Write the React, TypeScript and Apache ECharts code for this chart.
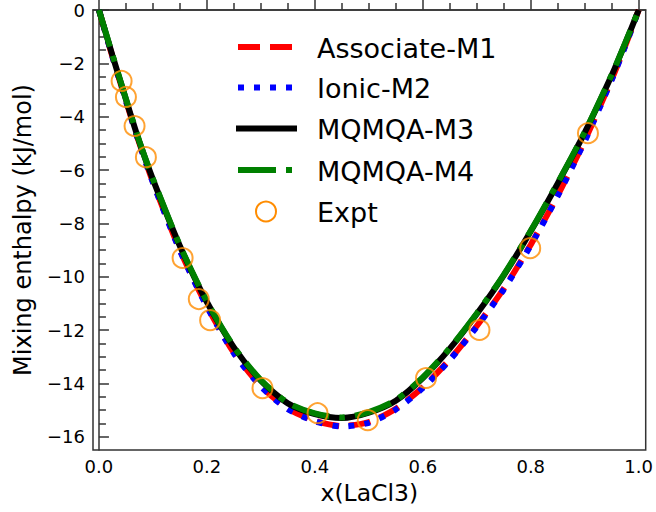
import React, { useEffect, useRef } from "react";
import * as echarts from "echarts";

// ---- data ----
const X_GRID = [0, 0.025, 0.05, 0.075, 0.1, 0.15, 0.2, 0.25, 0.3, 0.35, 0.4, 0.45, 0.5, 0.55, 0.6, 0.65, 0.7, 0.75, 0.8, 0.85, 0.9, 0.95, 0.975, 1.0];
const M1 = [0, -1.75, -3.4, -5.0, -6.45, -9.0, -11.1, -12.85, -14.1, -14.95, -15.4, -15.6, -15.45, -14.95, -14.15, -13.1, -11.85, -10.45, -8.8, -6.95, -4.9, -2.6, -1.35, 0];
const M2 = [0, -1.75, -3.42, -5.02, -6.47, -9.02, -11.12, -12.87, -14.12, -14.97, -15.42, -15.62, -15.48, -14.98, -14.18, -13.13, -11.88, -10.48, -8.83, -6.97, -4.92, -2.62, -1.36, 0];
const M3 = [0, -1.7, -3.35, -4.95, -6.35, -8.85, -10.95, -12.65, -13.9, -14.75, -15.15, -15.3, -15.1, -14.65, -13.8, -12.7, -11.4, -9.95, -8.3, -6.5, -4.6, -2.45, -1.25, 0];
const M4 = [0, -1.68, -3.33, -4.93, -6.33, -8.83, -10.93, -12.63, -13.88, -14.73, -15.13, -15.28, -15.08, -14.63, -13.78, -12.68, -11.38, -9.93, -8.28, -6.48, -4.58, -2.43, -1.24, 0];
const EXPT_X = [0.042, 0.05, 0.066, 0.087, 0.155, 0.185, 0.206, 0.303, 0.405, 0.498, 0.606, 0.705, 0.799, 0.906];
const EXPT_Y = [-2.66, -3.26, -4.35, -5.52, -9.3, -10.84, -11.63, -14.18, -15.12, -15.38, -13.8, -12.0, -8.93, -4.62];

const X_MAJOR = [0, 0.2, 0.4, 0.6, 0.8, 1.0];
const X_MINOR = [0.05, 0.1, 0.15, 0.25, 0.3, 0.35, 0.45, 0.5, 0.55, 0.65, 0.7, 0.75, 0.85, 0.9, 0.95];
const Y_MAJOR = [0, -2, -4, -6, -8, -10, -12, -14, -16];
const Y_MINOR = [-0.5, -1, -1.5, -2.5, -3, -3.5, -4.5, -5, -5.5, -6.5, -7, -7.5, -8.5, -9, -9.5, -10.5, -11, -11.5, -12.5, -13, -13.5, -14.5, -15, -15.5];

const LEGEND_NAMES = ["Associate-M1", "Ionic-M2", "MQMQA-M3", "MQMQA-M4", "Expt"];

const FONT = "DejaVu Sans";
const AX = "#333333";

function pairs(xs: number[], ys: number[]) {
  return xs.map((x, i) => [x, ys[i]]);
}

export default function App() {
  const ref = useRef<HTMLDivElement>(null);
  useEffect(() => {
    if (!ref.current) return;
    const chart = echarts.init(ref.current, undefined, { renderer: "svg" });
    const gridRect = { left: 93, right: 10, top: 10, bottom: 62 };
    const xMin = -0.011, xMax = 1.013, yMin = -16.5, yMax = 0;
    const lineSeries = (name: string, ys: number[], color: string, type: any) => ({
      name,
      type: "line",
      data: pairs(X_GRID, ys),
      showSymbol: false,
      smooth: 0.25,
      xAxisIndex: 0,
      yAxisIndex: 0,
      lineStyle: { color, width: 6, type, cap: "butt" },
      itemStyle: { color },
      z: 2,
    });
    const rows = [47, 87.5, 128.5, 170, 211.5];
    const legendGraphics: any[] = [
      { type: "line", shape: { x1: 238, y1: rows[0], x2: 292, y2: rows[0] }, style: { stroke: "#ff0000", lineWidth: 6, lineDash: [22, 10] } },
      { type: "line", shape: { x1: 238, y1: rows[1], x2: 292, y2: rows[1] }, style: { stroke: "#0000ff", lineWidth: 6, lineDash: [6, 10] } },
      { type: "line", shape: { x1: 236, y1: rows[2], x2: 297, y2: rows[2] }, style: { stroke: "#000000", lineWidth: 6 } },
      { type: "line", shape: { x1: 238, y1: rows[3], x2: 292, y2: rows[3] }, style: { stroke: "#008000", lineWidth: 6, lineDash: [38, 10, 6, 10] } },
      { type: "circle", shape: { cx: 266, cy: rows[4], r: 10 }, style: { fill: "none", stroke: "#ff8c00", lineWidth: 2 } },
      ...LEGEND_NAMES.map((t, i) => ({
        type: "text",
        x: 317,
        y: rows[i] + 1,
        style: { text: t, fontSize: 27, fontFamily: FONT, fill: "#000", verticalAlign: "middle", align: "left" },
      })),
    ];
    chart.setOption({
      animation: false,
      textStyle: { fontFamily: FONT },
      grid: [
        { ...gridRect, show: true, borderColor: AX, borderWidth: 1.5, backgroundColor: "transparent" },
        { ...gridRect },
      ],
      xAxis: [
        {
          type: "value", gridIndex: 0, min: xMin, max: xMax, position: "bottom",
          name: "x(LaCl3)", nameLocation: "middle", nameGap: 31,
          nameTextStyle: { fontSize: 23.5, color: "#000", fontFamily: FONT },
          axisLine: { show: true, lineStyle: { color: AX, width: 1.5 } },
          axisTick: { show: true, inside: true, length: 10, customValues: X_MAJOR, lineStyle: { color: AX, width: 1.5 } },
          axisLabel: { show: true, customValues: X_MAJOR, formatter: (v: number) => v.toFixed(1), fontSize: 18, color: "#000", margin: 7, fontFamily: FONT },
          splitLine: { show: false },
        },
        {
          type: "value", gridIndex: 1, min: xMin, max: xMax, position: "bottom",
          axisLine: { show: false },
          axisTick: { show: true, inside: true, length: 7, customValues: X_MINOR, lineStyle: { color: AX, width: 1.5 } },
          axisLabel: { show: false },
          splitLine: { show: false },
        },
      ],
      yAxis: [
        {
          type: "value", gridIndex: 0, min: yMin, max: yMax, position: "left",
          name: "Mixing enthalpy (kJ/mol)", nameLocation: "middle", nameGap: 58,
          nameTextStyle: { fontSize: 24, color: "#000", fontFamily: FONT },
          axisLine: { show: true, lineStyle: { color: AX, width: 1.5 } },
          axisTick: { show: true, inside: true, length: 10, customValues: Y_MAJOR, lineStyle: { color: AX, width: 1.5 } },
          axisLabel: {
            show: true, customValues: Y_MAJOR, fontSize: 18, color: "#000", margin: 8, fontFamily: FONT,
            formatter: (v: number) => (v === 0 ? "0" : "\u2212" + Math.abs(v)),
          },
          splitLine: { show: false },
        },
        {
          type: "value", gridIndex: 1, min: yMin, max: yMax, position: "left",
          axisLine: { show: false },
          axisTick: { show: true, inside: true, length: 7, customValues: Y_MINOR, lineStyle: { color: AX, width: 1.5 } },
          axisLabel: { show: false },
          splitLine: { show: false },
        },
      ],
      series: [
        lineSeries("Associate-M1", M1, "#ff0000", [22, 10]),
        lineSeries("Ionic-M2", M2, "#0000ff", [6, 10]),
        lineSeries("MQMQA-M3", M3, "#000000", "solid"),
        lineSeries("MQMQA-M4", M4, "#008000", [38, 10, 6, 10]),
        {
          name: "Expt",
          type: "scatter",
          xAxisIndex: 0,
          yAxisIndex: 0,
          data: pairs(EXPT_X, EXPT_Y),
          symbol: "circle",
          symbolSize: 20,
          itemStyle: { color: "rgba(0,0,0,0)", borderColor: "#ff8c00", borderWidth: 2 },
          z: 5,
        },
      ],
      graphic: legendGraphics,
    });
    return () => chart.dispose();
  }, []);
  return <div ref={ref} style={{ width: 656, height: 512, position: "absolute", left: 0, top: 0 }} />;
}
